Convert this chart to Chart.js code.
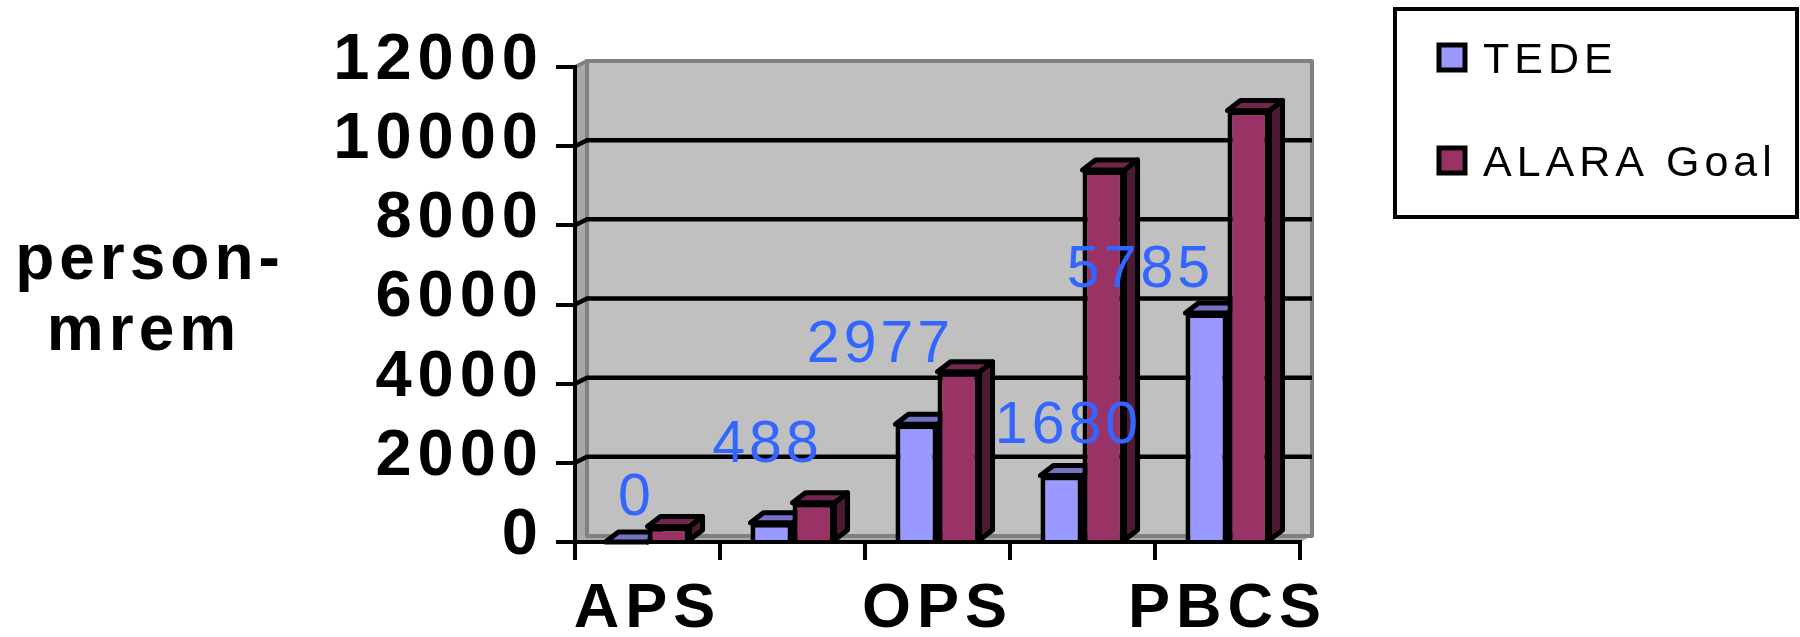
<!DOCTYPE html>
<html>
<head>
<meta charset="utf-8">
<title>person-mrem</title>
<script src="https://cdn.jsdelivr.net/npm/chart.js@4.4.1/dist/chart.umd.min.js"></script>
<style>
  html, body { margin: 0; padding: 0; background: #fff; }
  #wrap { width: 1800px; height: 637px; }
</style>
</head>
<body>
<div id="wrap"><canvas id="myChart"></canvas></div>
<script>
// categorias (las intermedias no llevan rotulo en el eje)
var categorias = ['APS', '', 'OPS', '', 'PBCS'];
var tede = [0, 488, 2977, 1680, 5785];
var alaraGoal = [390, 990, 4300, 9400, 10900];
var series = ['TEDE', 'ALARA Goal'];
var ejeY = { min: 0, max: 12000, paso: 2000 };
var tituloY = ['person-', 'mrem'];

// desplazamiento de las etiquetas de TEDE respecto a su barra (px)
var ajusteEtiqueta = [[10, -27], [-4, -61], [-36, -62], [7, -33], [-66, -26]];

var FUENTE = "'Liberation Sans', Arial, sans-serif";
var colores = {
    tede:  { frente: '#9999FF', arriba: '#7373C6', lado: '#4D4D80' },
    alara: { frente: '#993366', arriba: '#73264D', lado: '#4D1A33' },
    etiqueta: '#3366FF'
};
var prof = { dx: 13, dy: 10 };   // profundidad de las barras
var pared = { dx: 12, dy: 6 };   // profundidad de la pared del fondo

// pared gris del fondo, suelo y lineas de division
var paredFondo = {
    id: 'paredFondo',
    beforeDraw: function (chart) {
        var ctx = chart.ctx, a = chart.chartArea, y = chart.scales.y;
        var top = y.getPixelForValue(ejeY.max), bot = y.getPixelForValue(ejeY.min);
        ctx.save();
        ctx.lineJoin = 'round';
        // lateral izquierdo
        ctx.fillStyle = '#A8A8A8';
        ctx.beginPath();
        ctx.moveTo(a.left, top);
        ctx.lineTo(a.left + pared.dx, top - pared.dy);
        ctx.lineTo(a.left + pared.dx, bot - pared.dy);
        ctx.lineTo(a.left, bot);
        ctx.closePath();
        ctx.fill();
        // suelo
        ctx.beginPath();
        ctx.moveTo(a.left, bot);
        ctx.lineTo(a.left + pared.dx, bot - pared.dy);
        ctx.lineTo(a.right + pared.dx, bot - pared.dy);
        ctx.lineTo(a.right, bot);
        ctx.closePath();
        ctx.fill();
        // fondo
        ctx.fillStyle = '#C0C0C0';
        ctx.strokeStyle = '#808080';
        ctx.lineWidth = 4;
        ctx.fillRect(a.left + pared.dx, top - pared.dy, a.right - a.left, bot - top);
        ctx.strokeRect(a.left + pared.dx, top - pared.dy, a.right - a.left, bot - top);
        ctx.beginPath();
        ctx.moveTo(a.left, top);
        ctx.lineTo(a.left + pared.dx, top - pared.dy);
        ctx.stroke();
        // lineas de division
        ctx.strokeStyle = '#000';
        ctx.lineWidth = 4.5;
        for (var v = ejeY.min + ejeY.paso; v < ejeY.max; v += ejeY.paso) {
            var py = y.getPixelForValue(v);
            ctx.beginPath();
            ctx.moveTo(a.left, py);
            ctx.lineTo(a.left + pared.dx, py - pared.dy);
            ctx.lineTo(a.right + pared.dx, py - pared.dy);
            ctx.stroke();
        }
        ctx.restore();
        // los rotulos de los ejes van espaciados
        ctx.letterSpacing = '6px';
    },
    beforeDatasetsDraw: function (chart) {
        var ctx = chart.ctx;
        ctx.letterSpacing = '0px';
        ctx.save();
        ctx.lineWidth = 5;
        ctx.lineJoin = 'round';
        ctx.strokeStyle = '#000';
        chart.data.datasets.forEach(function (ds, i) {
            var c = i === 0 ? colores.tede : colores.alara;
            chart.getDatasetMeta(i).data.forEach(function (bar) {
                var p = bar.getProps(['x', 'y', 'base', 'width'], true);
                var l = p.x - p.width / 2, r = p.x + p.width / 2;
                // lado
                ctx.fillStyle = c.lado;
                ctx.beginPath();
                ctx.moveTo(r, p.y);
                ctx.lineTo(r + prof.dx, p.y - prof.dy);
                ctx.lineTo(r + prof.dx, p.base - prof.dy);
                ctx.lineTo(r, p.base);
                ctx.closePath();
                ctx.fill();
                ctx.stroke();
                // tapa
                ctx.fillStyle = c.arriba;
                ctx.beginPath();
                ctx.moveTo(l, p.y);
                ctx.lineTo(l + prof.dx, p.y - prof.dy);
                ctx.lineTo(r + prof.dx, p.y - prof.dy);
                ctx.lineTo(r, p.y);
                ctx.closePath();
                ctx.fill();
                ctx.stroke();
            });
        });
        ctx.restore();
    },
    afterDatasetsDraw: function (chart) {
        // valores de TEDE en azul
        var ctx = chart.ctx;
        ctx.save();
        ctx.letterSpacing = '4px';
        ctx.font = '59px ' + FUENTE;
        ctx.fillStyle = colores.etiqueta;
        ctx.textAlign = 'center';
        ctx.textBaseline = 'alphabetic';
        chart.getDatasetMeta(0).data.forEach(function (bar, i) {
            var aj = ajusteEtiqueta[i];
            ctx.fillText(String(tede[i]), bar.x + aj[0], bar.y + aj[1]);
        });
        ctx.restore();
    },
    afterDraw: function (chart) {
        var ctx = chart.ctx;
        ctx.save();
        // titulo del eje Y en horizontal
        ctx.letterSpacing = '5px';
        ctx.font = 'bold 64px ' + FUENTE;
        ctx.fillStyle = '#000';
        ctx.textAlign = 'center';
        ctx.fillText(tituloY[0], 150, 279);
        ctx.fillText(tituloY[1], 144, 350);
        // leyenda con marco
        var lx = chart.width - 405, ly = 9;
        ctx.lineWidth = 4;
        ctx.strokeStyle = '#000';
        ctx.strokeRect(lx, ly, 402, 208);
        ctx.letterSpacing = '5px';
        ctx.font = '43px ' + FUENTE;
        ctx.textAlign = 'left';
        ctx.lineWidth = 5;
        chart.data.datasets.forEach(function (ds, i) {
            var yy = ly + 36 + i * 103;
            ctx.fillStyle = ds.backgroundColor;
            ctx.fillRect(lx + 44, yy, 26, 25);
            ctx.strokeRect(lx + 44, yy, 26, 25);
            ctx.fillStyle = '#000';
            ctx.fillText(ds.label, lx + 88, yy + 28);
        });
        ctx.restore();
    }
};

var ctx = document.getElementById('myChart').getContext('2d');
var myChart = new Chart(ctx, {
    type: 'bar',
    data: {
        labels: categorias,
        datasets: [{
            label: series[0],
            data: tede,
            backgroundColor: colores.tede.frente,
            borderColor: '#000',
            borderWidth: 5
        }, {
            label: series[1],
            data: alaraGoal,
            backgroundColor: colores.alara.frente,
            borderColor: '#000',
            borderWidth: 5
        }]
    },
    options: {
        responsive: true,
        maintainAspectRatio: false,
        animation: false,
        events: [],
        layout: { padding: { left: 0, top: 67, right: 500, bottom: 0 } },
        datasets: { bar: { categoryPercentage: 0.58, barPercentage: 1 } },
        plugins: { legend: { display: false }, tooltip: { enabled: false } },
        scales: {
            x: {
                grid: { display: true, offset: true, drawOnChartArea: false, color: '#000', lineWidth: 4, tickLength: 18 },
                border: { display: true, color: '#000', width: 4 },
                ticks: { color: '#000', padding: 12, maxRotation: 0, autoSkip: false,
                         font: { family: FUENTE, size: 63, weight: 'bold' } },
                afterFit: function (s) { s.height = 95; }
            },
            y: {
                min: ejeY.min,
                max: ejeY.max,
                grid: { display: true, drawOnChartArea: false, color: '#000', lineWidth: 4, tickLength: 19 },
                border: { display: true, color: '#000', width: 4 },
                ticks: { stepSize: ejeY.paso, autoSkip: false, color: '#000', padding: 12, labelOffset: -6,
                         font: { family: FUENTE, size: 65, weight: 'bold' },
                         callback: function (v) { return String(v); } },
                afterFit: function (s) { s.width = 575; }
            }
        }
    },
    plugins: [paredFondo]
});
</script>
</body>
</html>
